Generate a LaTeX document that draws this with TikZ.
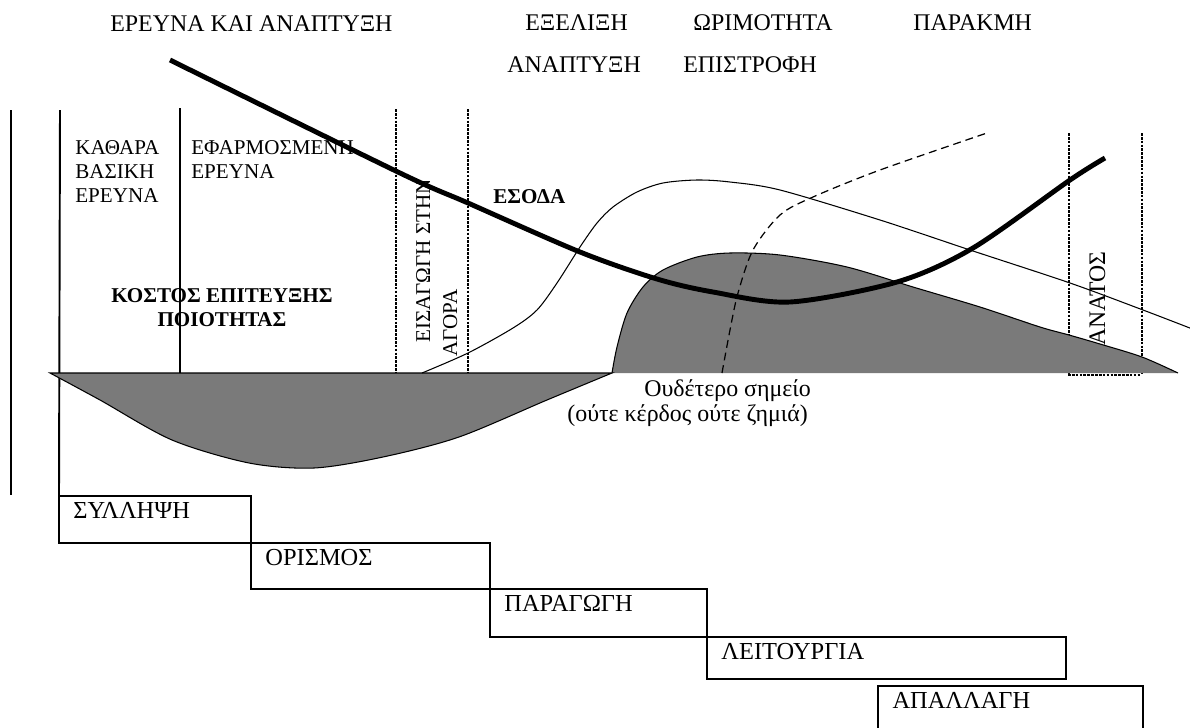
\documentclass[tikz,border=0pt]{standalone}
\usepackage{fontspec}
\setmainfont{Liberation Serif}
\usepackage{tikz}
\usetikzlibrary{positioning}
\tikzstyle{stage}=[
draw,
line width=1.1pt,
outer sep=0pt,
inner xsep=0.29cm,
inner ysep=0pt,
text height=0.45cm,
align=left,
anchor=north west,
font=\fontsize{13.9}{16}\selectfont
]
\tikzstyle{head}=[
anchor=base west,
inner sep=0pt,
font=\fontsize{13.6}{16}\selectfont
]
\tikzstyle{note}=[
anchor=base west,
inner sep=0pt,
font=\fontsize{12}{13.7}\selectfont
]
\tikzstyle{bnote}=[
note,
font=\fontsize{12}{13.7}\selectfont\bfseries
]
\tikzstyle{cost}=[line width=2.8pt]
\tikzstyle{revenue}=[line width=0.6pt]
\tikzstyle{phase}=[line width=0.9pt, dash pattern=on 1.5pt off 0.7pt]
\tikzstyle{region}=[fill=black!52, draw=black, line width=0.6pt]

\begin{document}
\begin{tikzpicture}[x=0.02cm, y=-0.02cm]

\useasboundingbox (0,0) rectangle (1190,727);
\clip (0,0) rectangle (1190,727);

\node (rnd) [head] at (110,31) {ΕΡΕΥΝΑ ΚΑΙ ΑΝΑΠΤΥΞΗ};
\node (evolution) [head] at (525,30) {ΕΞΕΛΙΞΗ};
\node (maturity) [head] at (693,30) {ΩΡΙΜΟΤΗΤΑ};
\node (decline) [head] at (913,30) {ΠΑΡΑΚΜΗ};
\node (growth) [head] at (507,72) {ΑΝΑΠΤΥΞΗ};
\node (payback) [head] at (683,72) {ΕΠΙΣΤΡΟΦΗ};

\node (concept) [stage, text width=3.26cm, text depth=0.49cm] at (59,496) {ΣΥΛΛΗΨΗ};
\node (definition) [stage, text width=4.20cm, text depth=0.47cm] at (concept.south east) {ΟΡΙΣΜΟΣ};
\node (production) [stage, text width=3.76cm, text depth=0.51cm] at (definition.south east) {ΠΑΡΑΓΩΓΗ};
\node (operation) [stage, text width=6.60cm, text depth=0.39cm] at (production.south east) {ΛΕΙΤΟΥΡΓΙΑ};
\node (disposal) [stage, text width=4.72cm, text depth=0.55cm] at (878,686) {ΑΠΑΛΛΑΓΗ};

\draw [line width=1.1pt] (11,110) -- (11,495);
\draw [line width=1.1pt] (60,110) -- (concept.north west);
\draw [line width=0.8pt] (180,108) -- (180,373);
\draw [phase] (396,109) -- (396,373);
\draw [phase] (468,109) -- (468,373);
\draw [phase] (1069,133) -- (1069,373);
\draw [phase] (1142,133) -- (1142,373);

\node (death) [note, rotate=90, font=\fontsize{13.5}{16}\selectfont] at (1105,362) {ΘΑΝΑΤΟΣ};

\fill [black!52] plot[smooth] coordinates {(612,373) (617,347) (627,313) (643,287) (663,270) (697,257) (730,253) (780,255) (847,267) (913,287) (980,307) (1040,327) (1069,335) (1100,344) (1142,357) (1178,373)} -- cycle;
\draw [revenue] plot[smooth] coordinates {(612,373) (617,347) (627,313) (643,287) (663,270) (697,257) (730,253) (780,255) (847,267) (913,287) (980,307) (1040,327) (1069,335) (1100,344) (1142,357) (1178,373)};
\draw [region] plot[smooth] coordinates {(50,373) (100,400) (172,440) (249,463) (314,468) (383,457) (459,437) (547,400) (612,373)} -- cycle;
\draw [line width=1.5pt, dash pattern=on 1.5pt off 0.7pt] (1068,375) -- (1140,375);

\node (basic) [note] at (75,154) {\begin{tabular}[t]{@{}l@{}}ΚΑΘΑΡΑ\\ΒΑΣΙΚΗ\\ΕΡΕΥΝΑ\end{tabular}};
\node (applied) [note] at (191,154) {\begin{tabular}[t]{@{}l@{}}ΕΦΑΡΜΟΣΜΕΝΗ\\ΕΡΕΥΝΑ\end{tabular}};
\node (qualitycost) [bnote, anchor=base] at (222,302) {\begin{tabular}[t]{@{}c@{}}ΚΟΣΤΟΣ ΕΠΙΤΕΥΞΗΣ\\ΠΟΙΟΤΗΤΑΣ\end{tabular}};
\node (income) [bnote] at (493,203) {ΕΣΟΔΑ};
\node (intro) [note, rotate=90] at (430,343) {ΕΙΣΑΓΩΓΗ ΣΤΗΝ};
\node (market) [note, rotate=90] at (457,357) {ΑΓΟΡΑ};
\node (breakeven) [note, font=\fontsize{13.6}{16}\selectfont] at (644,396) {Ουδέτερο σημείο};
\node (breakevennote) [note, font=\fontsize{13.6}{16}\selectfont] at (567,421) {(ούτε κέρδος ούτε ζημιά)};

\draw [revenue] plot[smooth] coordinates {(422,373) (468,353) (513,328) (537,310) (557,283) (580,247) (597,223) (613,207) (637,192) (663,183) (697,180) (730,182) (780,190) (880,220) (970,250) (1070,283) (1143,310) (1195,330)};
\draw [line width=0.7pt, dash pattern=on 4.5pt off 2.8pt] plot[smooth] coordinates {(722,373) (730,330) (738,293) (753,250) (780,215) (813,197) (880,170) (987,133)};
\draw [cost] plot[smooth] coordinates {(170,60) (400,173) (468,203) (580,252) (657,279) (713,292) (790,302) (897,282) (973,248) (1070,180) (1105,158)};

\end{tikzpicture}
\end{document}
